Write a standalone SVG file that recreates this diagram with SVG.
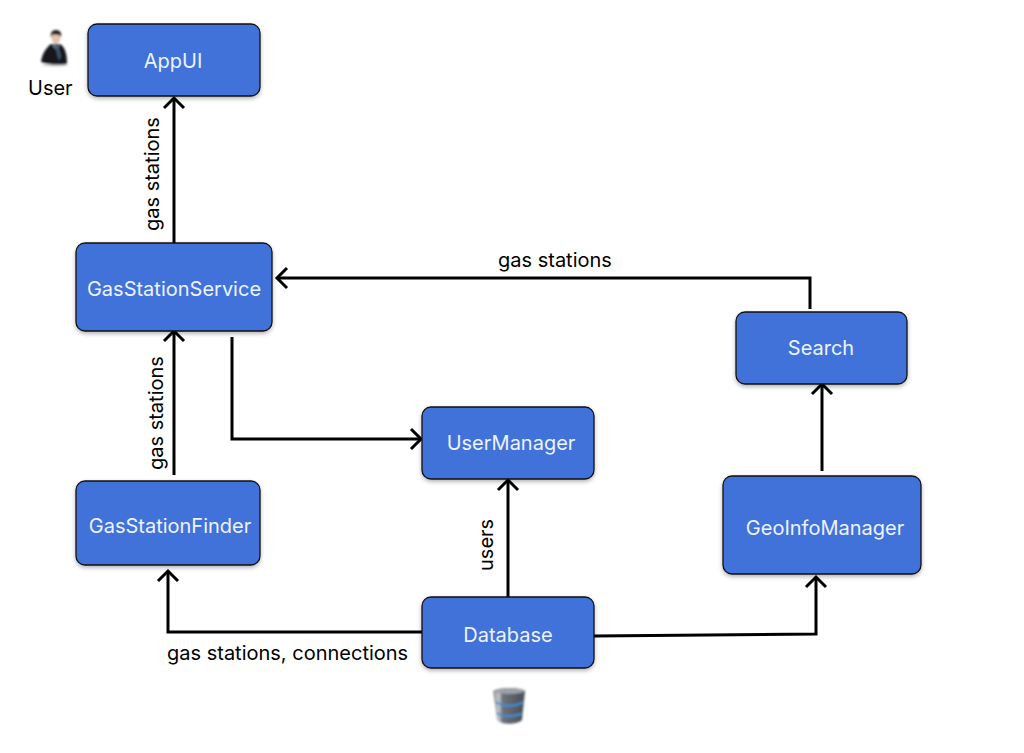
<svg xmlns="http://www.w3.org/2000/svg" width="1024" height="753" viewBox="0 0 1024 753">
<style>
text{font-family:Inter,"Liberation Sans",sans-serif;font-size:20px}
.box{fill:#3f72da;stroke:#111;stroke-width:1.3;filter:url(#sh)}
.nl{fill:#eef3fd;text-anchor:middle}
.lb{fill:#000}
.c{fill:none;stroke:#000;stroke-width:3;marker-end:url(#a)}
</style>
<defs>
<marker id="a" markerUnits="userSpaceOnUse" markerWidth="28" markerHeight="28" refX="15" refY="14" orient="auto"><path d="M5 4L15 14L5 24" fill="none" stroke="#000" stroke-width="3"/></marker>
<filter id="sh" x="-10%" y="-10%" width="120%" height="125%"><feDropShadow dx="0" dy="2" stdDeviation="2" flood-color="#000" flood-opacity="0.3"/></filter>
<filter id="bl" x="-20%" y="-20%" width="140%" height="140%"><feGaussianBlur stdDeviation="0.8"/></filter>
<linearGradient id="dbg" x1="0" x2="1" y1="0" y2="0"><stop offset="0" stop-color="#8a8f94"/><stop offset="0.18" stop-color="#c4c7c9"/><stop offset="0.3" stop-color="#6d737a"/><stop offset="1" stop-color="#494e55"/></linearGradient>
</defs>
<g id="connectors">
<path class="c" d="M174 243V98"/>
<path class="c" d="M174 475V331"/>
<path class="c" d="M810 309V278H277"/>
<path class="c" d="M232 337V439H421"/>
<path class="c" d="M508 597V480"/>
<path class="c" d="M422 632H168V571"/>
<path class="c" d="M594 636L816 634V577"/>
<path class="c" d="M822 471V384"/>
</g>
<g id="AppUI"><rect class="box" x="88" y="24" width="172" height="72" rx="9"/><text class="nl" x="173" y="68">AppUI</text></g>
<g id="GasStationService"><rect class="box" x="76" y="243" width="196" height="88" rx="9"/><text class="nl" x="174" y="296">GasStationService</text></g>
<g id="GasStationFinder"><rect class="box" x="76" y="481" width="184" height="84" rx="9"/><text class="nl" x="170" y="533">GasStationFinder</text></g>
<g id="UserManager"><rect class="box" x="422" y="407" width="172" height="72" rx="9"/><text class="nl" x="511" y="450">UserManager</text></g>
<g id="Database"><rect class="box" x="422" y="597" width="172" height="71" rx="9"/><text class="nl" x="508" y="642">Database</text></g>
<g id="Search"><rect class="box" x="736" y="312" width="171" height="72" rx="9"/><text class="nl" x="821" y="355">Search</text></g>
<g id="GeoInfoManager"><rect class="box" x="723" y="476" width="198" height="98" rx="9"/><text class="nl" x="825" y="535">GeoInfoManager</text></g>
<g id="labels">
<text class="lb" x="28" y="95">User</text>
<text class="lb" x="498" y="267">gas stations</text>
<text class="lb" x="167" y="660">gas stations, connections</text>
<text class="lb" transform="translate(159 231) rotate(-90)">gas stations</text>
<text class="lb" transform="translate(163 470) rotate(-90)">gas stations</text>
<text class="lb" transform="translate(493 571) rotate(-90)">users</text>
</g>
<g id="user-icon" filter="url(#bl)">
<ellipse cx="55" cy="65" rx="13" ry="1.5" fill="#ccc"/>
<path d="M41 62C42 53 47 47 51 44L60 44C65 47 67 54 67 64C60 65 48 65 41 62Z" fill="#17191c"/>
<path d="M52 44L56 46L59 44L58 52Z" fill="#8fb0cc"/>
<path d="M55 46L58 45L61 56L59 61Z" fill="#3c566c"/>
<ellipse cx="56" cy="37" rx="4.5" ry="7" fill="#e2c3b0"/>
<path d="M51 38C50 33 52 30 56 30C60 30 62 33 61 37C60 34 53 34 52 35Z" fill="#2a211c"/>
</g>
<g id="database-icon" filter="url(#bl)">
<path d="M493 691C497 687 521 687 525 691L522 720C517 725 501 725 497 720Z" fill="url(#dbg)"/>
<ellipse cx="509" cy="691" rx="15" ry="3" fill="#9da1a5"/>
<path d="M496 702C503 707 516 707 523 702M497 713C503 717 516 717 522 713" fill="none" stroke="#3e8fd8" stroke-width="2"/>
</g>
</svg>
